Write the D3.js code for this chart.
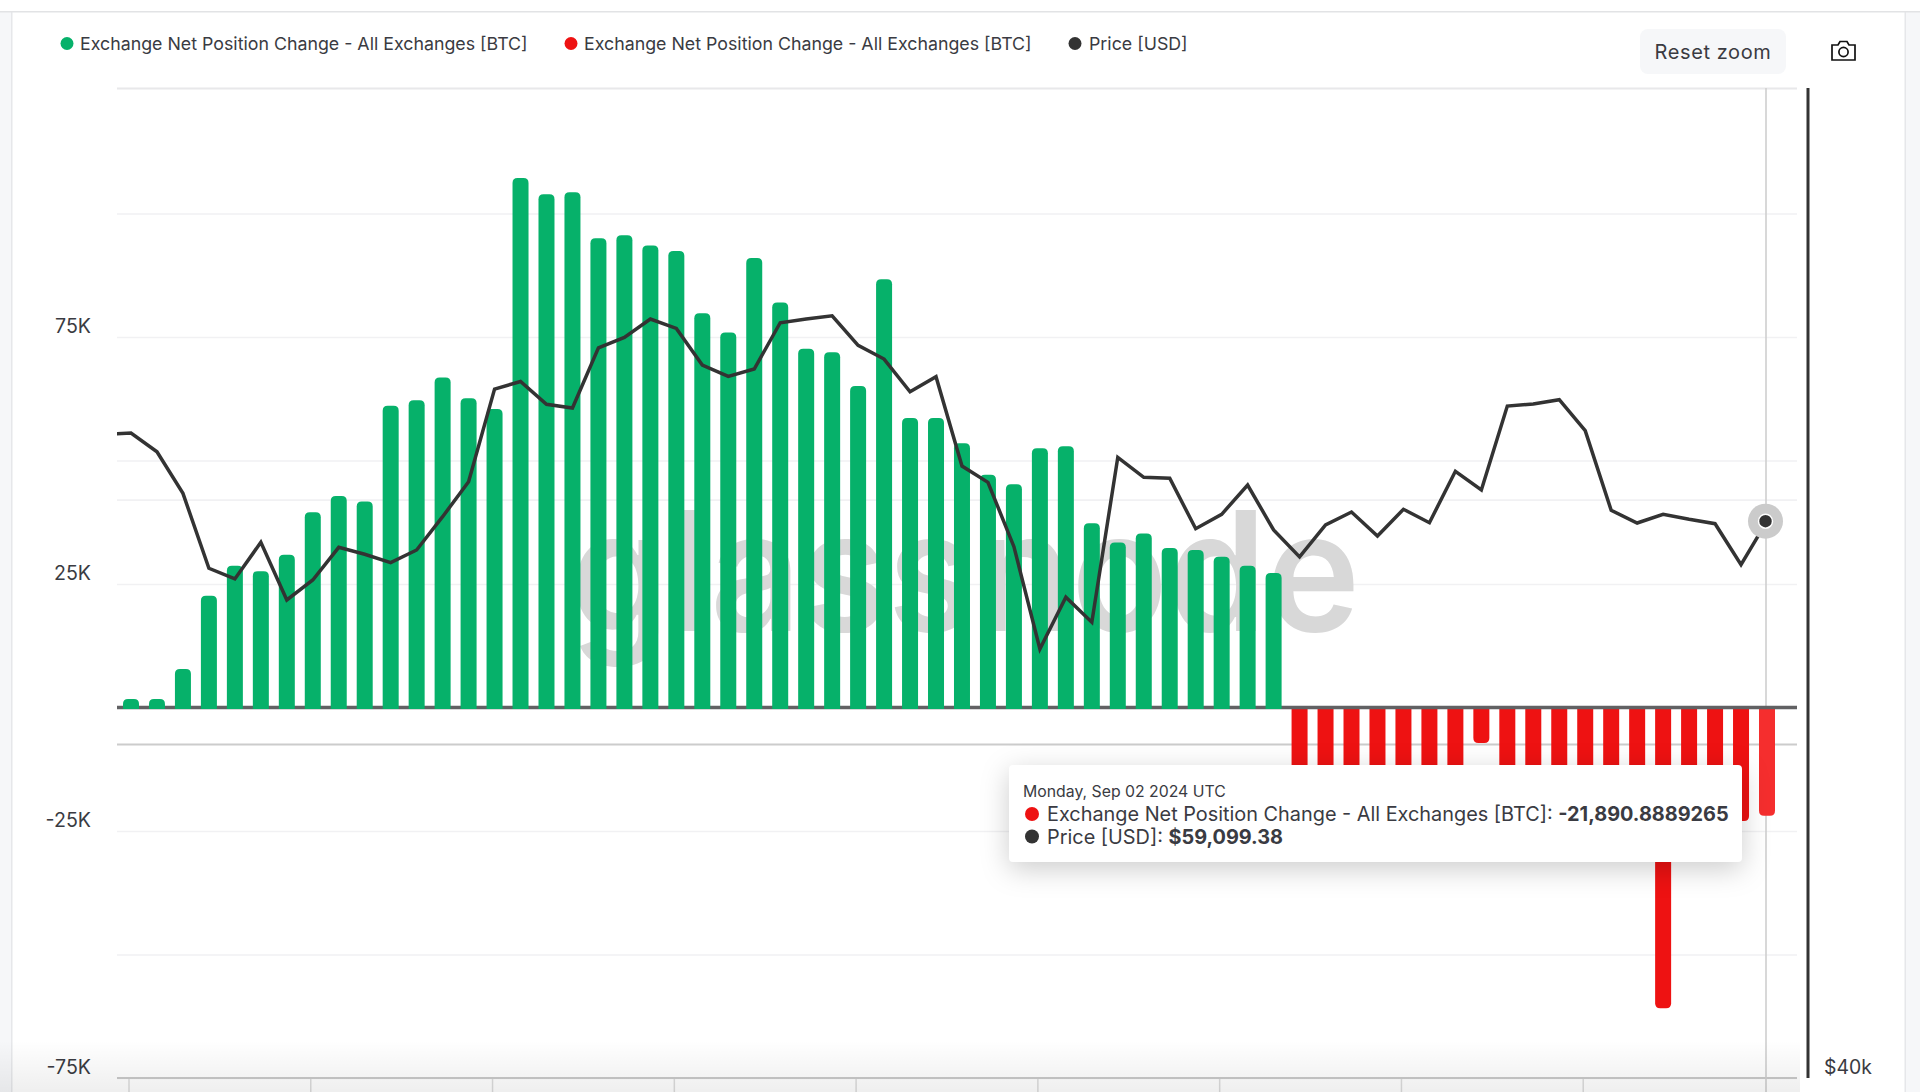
<!DOCTYPE html>
<html>
<head>
<meta charset="utf-8">
<script src="https://cdn.jsdelivr.net/npm/d3@7/dist/d3.min.js"></script>
<style>
html,body{margin:0;padding:0;background:#fff;overflow:hidden}
svg{display:block;font-family:Inter,"Noto Sans",sans-serif}
</style>
</head>
<body>
<svg id="chart" width="1920" height="1092"></svg>
<script>
// ---------- data ----------
const lastDay = new Date(Date.UTC(2024, 8, 2));
const dayCount = 64;
const netPositionK = [
  1.7,1.7,7.8,22.6,28.7,27.6,30.9,39.5,42.8,41.7,61.1,62.2,66.8,62.6,60.4,
  107.2,103.9,104.3,95,95.6,93.5,92.4,79.8,75.9,91,82,72.6,71.9,65.1,86.7,
  58.6,58.6,53.5,47.1,45.2,52.5,52.9,37.3,33.4,35.2,32.3,31.9,30.5,28.7,27.2,
  -18,-19,-20,-21,-22,-23,-21,-7.2,-20,-22,-24,-19,-23,-20,-60.9,-24,-26,-23,-21.8908889265
];
const priceBeforeFirstDay = 62800;
const priceUsd = [
  62867,62048,60265,57180,56753,58231,55924,56713,58027,57743,57404,57918,59285,60757,64835,65177,
  64144,63977,66739,67227,68095,67652,65935,65414,65750,67919,68095,68252,66851,66213,64712,65396,
  61430,60731,58052,54035,56030,55056,61805,60945,60902,58789,59385,60617,58735,57635,58942,59481,
  58489,59593,59036,61202,60405,64067,64157,64351,62968,59552,59024,59385,59177,58995,57324,59099.38
];
const yTopK = 125.4;
const gridTicksK = [yTopK,100,75,50,25,-25,-50,-75];
const labelledTicksK = [75,25,-25,-75];
const priceGridTicks = [60000,50550];
const priceAxisLabel = "$40k";
const seriesLabel = "Exchange Net Position Change - All Exchanges [BTC]";
const priceLabel = "Price [USD]";
const tooltipDate = "Monday, Sep 02 2024 UTC";
const tooltipNet = "-21,890.8889265";
const tooltipPrice = "$59,099.38";

// ---------- colours / geometry ----------
const GREEN="#06b16a", RED="#ee1212", RED_HOVER="#f52e2e", DARK="#333333", TEXT="#3a3b42";
const pL=117,pR=1797,pT=88,pB=1078;
const svg=d3.select("#chart");
const days=d3.utcDay.range(d3.utcDay.offset(lastDay,-(dayCount-1)),d3.utcDay.offset(lastDay,1));

const x=d3.scaleUtc().domain([days[0],lastDay]).range([131,1767]);
const y=d3.scaleLinear().domain([-75,yTopK]).range([1078,88]);
const yPrice=d3.scaleLog().domain([40000,60000]).range([1078,499.6]);

const defs=svg.append("defs");
defs.append("clipPath").attr("id","plot").append("rect")
  .attr("x",pL).attr("y",pT).attr("width",pR-pL).attr("height",pB-pT);
const fade=defs.append("linearGradient").attr("id","fade").attr("x1",0).attr("x2",0).attr("y1",0).attr("y2",1);
fade.append("stop").attr("offset",0).attr("stop-color","#000").attr("stop-opacity",0);
fade.append("stop").attr("offset",1).attr("stop-color","#000").attr("stop-opacity",0.065);

// page frame
svg.append("rect").attr("width",1920).attr("height",1092).attr("fill","#fff");
svg.append("rect").attr("x",0).attr("y",12).attr("width",12).attr("height",1080).attr("fill","#f6f7f9");
svg.append("rect").attr("x",1905).attr("y",12).attr("width",15).attr("height",1080).attr("fill","#f6f7f9");
svg.append("rect").attr("x",11).attr("y",12).attr("width",1.5).attr("height",1080).attr("fill","#e6e7ea");
svg.append("rect").attr("x",1904.5).attr("y",12).attr("width",1.5).attr("height",1080).attr("fill","#e6e7ea");
svg.append("rect").attr("x",0).attr("y",11).attr("width",1920).attr("height",1.5).attr("fill","#e2e3e5");

// grid
const gridAxis=d3.axisLeft(y).tickValues(gridTicksK).tickSize(-(pR-pL)).tickFormat("");
const gg=svg.append("g").attr("transform",`translate(${pL},0)`).call(gridAxis);
gg.select(".domain").remove();
gg.selectAll("line").attr("stroke",d=>d===yTopK?"#e8e8ea":"#f1f1f3").attr("stroke-width",d=>d===yTopK?2:1.6);

// price axis grid
const priceGrid=svg.append("g").attr("transform",`translate(${pL},0)`)
  .call(d3.axisLeft(yPrice).tickValues(priceGridTicks).tickSize(-(pR-pL)).tickFormat(""));
priceGrid.select(".domain").remove();
priceGrid.selectAll("line").attr("stroke",d=>d===60000?"#f1f1f3":"#cccccc").attr("stroke-width",d=>d===60000?1.6:2);

// watermark
svg.append("text").attr("x",570).attr("y",631)
  .attr("font-size",166).attr("font-weight",600).attr("textLength",790).attr("lengthAdjust","spacingAndGlyphs")
  .attr("fill","#d8d8d8").text("glassnode");

// bottom axis and ticks
const xa=svg.append("g").attr("transform",`translate(-2.5,${pB})`)
  .call(d3.axisBottom(x).tickValues(days.filter((d,i)=>i%7===0&&i<63)).tickSize(14).tickFormat(""));
xa.select(".domain").remove();
xa.selectAll("line").attr("stroke","#dcdcdc").attr("stroke-width",1.5);
svg.append("line").attr("x1",pL).attr("x2",pR).attr("y1",pB).attr("y2",pB)
  .attr("stroke","#c9c9c9").attr("stroke-width",2);

// y labels
const yl=svg.append("g").attr("transform","translate(91,-10.5)")
  .call(d3.axisLeft(y).tickValues(labelledTicksK).tickSize(0).tickPadding(0).tickFormat(d=>d+"K"));
yl.select(".domain").remove();
yl.selectAll("text").attr("font-size",19.6).attr("font-family","Inter").attr("fill",TEXT);

// crosshair
svg.append("line").attr("x1",x(lastDay)-1).attr("x2",x(lastDay)-1).attr("y1",pT).attr("y2",pB+14)
  .attr("stroke","#cfcfcf").attr("stroke-width",1.6);

// bars
const BW=16,R=5;
function barPath(d){
  const cx=x(d.day), y0=y(0), yv=y(d.v), l=cx-BW/2, r=cx+BW/2;
  if(d.v>=0){
    const b=y0+1.6;
    return `M${l},${b}V${yv+R}Q${l},${yv} ${l+R},${yv}H${r-R}Q${r},${yv} ${r},${yv+R}V${b}Z`;
  }
  return `M${l},${y0}V${yv-R}Q${l},${yv} ${l+R},${yv}H${r-R}Q${r},${yv} ${r},${yv-R}V${y0}Z`;
}
const barData=netPositionK.map((v,i)=>({v,day:days[i],i}));
const plot=svg.append("g").attr("clip-path","url(#plot)");
plot.selectAll(".red").data(barData.filter(d=>d.v<0)).join("path").attr("class","red")
  .attr("d",barPath).attr("fill",d=>d.i===dayCount-1?RED_HOVER:RED);
plot.append("line").attr("x1",pL).attr("x2",pR).attr("y1",y(0)).attr("y2",y(0))
  .attr("stroke","#616163").attr("stroke-width",3.4);
plot.selectAll(".green").data(barData.filter(d=>d.v>=0)).join("path").attr("class","green")
  .attr("d",barPath).attr("fill",GREEN);

// price line
const lineData=[{day:d3.utcDay.offset(days[0],-1),p:priceBeforeFirstDay}].concat(priceUsd.map((p,i)=>({day:days[i],p})));
const lineGen=d3.line().x(d=>x(d.day)).y(d=>yPrice(d.p));
plot.append("path").attr("d",lineGen(lineData)).attr("fill","none").attr("stroke",DARK)
  .attr("stroke-width",3.5).attr("stroke-linejoin","miter");

// hover marker
const mx=x(lastDay)-1.5, my=yPrice(priceUsd[dayCount-1]);
svg.append("circle").attr("cx",mx).attr("cy",my).attr("r",17.5).attr("fill","#cbcbcb");
svg.append("circle").attr("cx",mx).attr("cy",my).attr("r",7).attr("fill",DARK).attr("stroke","#fff").attr("stroke-width",1.5);

// right axis
svg.append("line").attr("x1",1808).attr("x2",1808).attr("y1",pT).attr("y2",pB).attr("stroke",DARK).attr("stroke-width",3);
svg.append("text").attr("x",1824).attr("y",yPrice(40000)-11).attr("dy","0.36em").attr("font-size",19.4)
  .attr("fill",TEXT).text(priceAxisLabel);

// legend
const legendItems=[
  {c:GREEN,t:seriesLabel,dot:67,tx:80},
  {c:RED,t:seriesLabel,dot:571,tx:584},
  {c:DARK,t:priceLabel,dot:1075,tx:1089}];
const lg=svg.append("g");
lg.selectAll("circle").data(legendItems).join("circle")
  .attr("cx",d=>d.dot).attr("cy",43.5).attr("r",6.5).attr("fill",d=>d.c);
lg.selectAll("text").data(legendItems).join("text")
  .attr("x",d=>d.tx).attr("y",43.5).attr("dy","0.35em").attr("font-size",17.8).attr("fill",TEXT).text(d=>d.t);

// reset button
svg.append("rect").attr("x",1640).attr("y",29).attr("width",146).attr("height",45).attr("rx",8).attr("fill","#f6f7f9");
svg.append("text").attr("x",1713).attr("y",51.5).attr("dy","0.36em").attr("text-anchor","middle")
  .attr("font-size",20).attr("letter-spacing",0.6).attr("fill",TEXT).text("Reset zoom");

// camera icon
const cam=svg.append("g").attr("fill","none").attr("stroke","#111").attr("stroke-width",1.7);
cam.append("path").attr("d","M1832,45H1838L1840,41.5H1847L1849,45H1855V60H1832Z");
cam.append("circle").attr("cx",1843.5).attr("cy",52).attr("r",4.6);

// tooltip
const tip=svg.append("g").style("filter","drop-shadow(0 7px 14px rgba(0,0,0,.2))");
tip.append("rect").attr("x",1009).attr("y",765).attr("width",733).attr("height",97).attr("rx",4).attr("fill","#fff");
const tt=svg.append("g").attr("fill",TEXT);
tt.append("text").attr("x",1023).attr("y",791.5).attr("dy","0.35em").attr("font-size",15.8).text(tooltipDate);
tt.append("circle").attr("cx",1032).attr("cy",814).attr("r",7).attr("fill",RED);
const l1=tt.append("text").attr("x",1047).attr("y",814).attr("dy","0.35em").attr("font-size",19.87);
l1.append("tspan").text(seriesLabel+": ");
l1.append("tspan").attr("font-weight",700).text(tooltipNet);
tt.append("circle").attr("cx",1032).attr("cy",836.5).attr("r",7).attr("fill",DARK);
const l2=tt.append("text").attr("x",1047).attr("y",837).attr("dy","0.35em").attr("font-size",19.87);
l2.append("tspan").text(priceLabel+": ");
l2.append("tspan").attr("font-weight",700).text(tooltipPrice);

// bottom shadow
svg.append("rect").attr("x",0).attr("y",1040).attr("width",1800).attr("height",52).attr("fill","url(#fade)");
</script>
</body>
</html>
